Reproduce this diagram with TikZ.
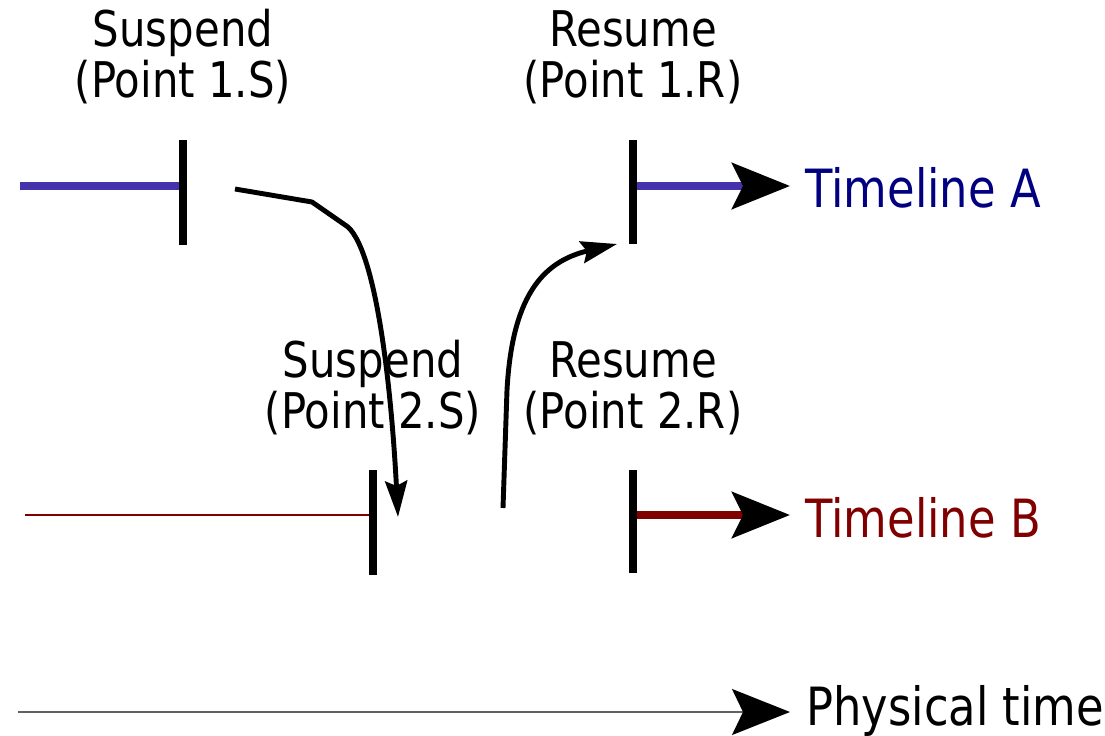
\documentclass[tikz,border=0pt]{standalone}
\usepackage{fontspec}
\setmainfont{DejaVu Sans}[FakeStretch=0.85]
\usetikzlibrary{arrows.meta}
\definecolor{lineA}{HTML}{4433AA}
\definecolor{textA}{HTML}{000080}
\definecolor{lineB}{HTML}{800000}
\definecolor{physgray}{HTML}{606060}
\begin{document}
\begin{tikzpicture}[x=0.02cm,y=-0.02cm,line join=round,font=\fontsize{28}{29}\selectfont,
	bighead/.style={-{Stealth[length=1.16cm,width=0.92cm,inset=0.22cm,color=black]}},
	hop/.style={line width=2.8pt,-{Stealth[length=0.72cm,width=0.44cm,inset=0.1cm]}},
	bar/.style={line width=5pt},
	lbl/.style={align=center,inner sep=0pt},
	tname/.style={anchor=base west,inner sep=0pt,font=\fontsize{30}{32}\selectfont}]
	\useasboundingbox (0,0) rectangle (1105,736);
	% timeline A
	\coordinate (a0) at (20,186);
	\coordinate (s1) at (183,186);
	\coordinate (r1) at (637,186);
	\coordinate (a1) at (790,186);
	\draw[lineA,line width=4.5pt] (a0) -- (s1);
	\draw[lineA,line width=4.5pt,bighead] (r1) -- (a1);
	\draw[bar] (183,140) -- (183,245);
	\draw[bar] (633,140) -- (633,244);
	\node[tname,textA] (tla) at (805,208) {Timeline A};
	% timeline B
	\coordinate (b0) at (25,515);
	\coordinate (s2) at (370,515);
	\coordinate (r2) at (637,515);
	\coordinate (b1) at (790,515);
	\draw[lineB,line width=0.6pt] (b0) -- (s2);
	\draw[lineB,line width=4.5pt,bighead] (r2) -- (b1);
	\draw[bar] (373,470) -- (373,575);
	\draw[bar] (633,470) -- (633,573);
	\node[tname,lineB] (tlb) at (805,537) {Timeline B};
	% physical time
	\coordinate (p0) at (18,712);
	\coordinate (p1) at (790,712);
	\draw[physgray,line width=1.2pt,bighead] (p0) -- (p1);
	\node[tname] (pt) at (806,725) {Physical time};
	% labels
	\node[lbl] (l1s) at (183,57) {Suspend\\(Point 1.S)};
	\node[lbl] (l1r) at (633,57) {Resume\\(Point 1.R)};
	\node[lbl] (l2s) at (373,388) {Suspend\\(Point 2.S)};
	\node[lbl] (l2r) at (633,388) {Resume\\(Point 2.R)};
	% jumps
	\coordinate (j1a) at (235,189);
	\coordinate (j1b) at (398,517);
	\coordinate (j2a) at (503,508);
	\coordinate (j2b) at (617,244);
	\draw[hop] (j1a) -- (312,202) -- (348,227) .. controls (378,255) and (392,400) .. (j1b);
	\draw[hop] (j2a) -- (507,390) .. controls (512,300) and (540,262) .. (j2b);
\end{tikzpicture}
\end{document}
